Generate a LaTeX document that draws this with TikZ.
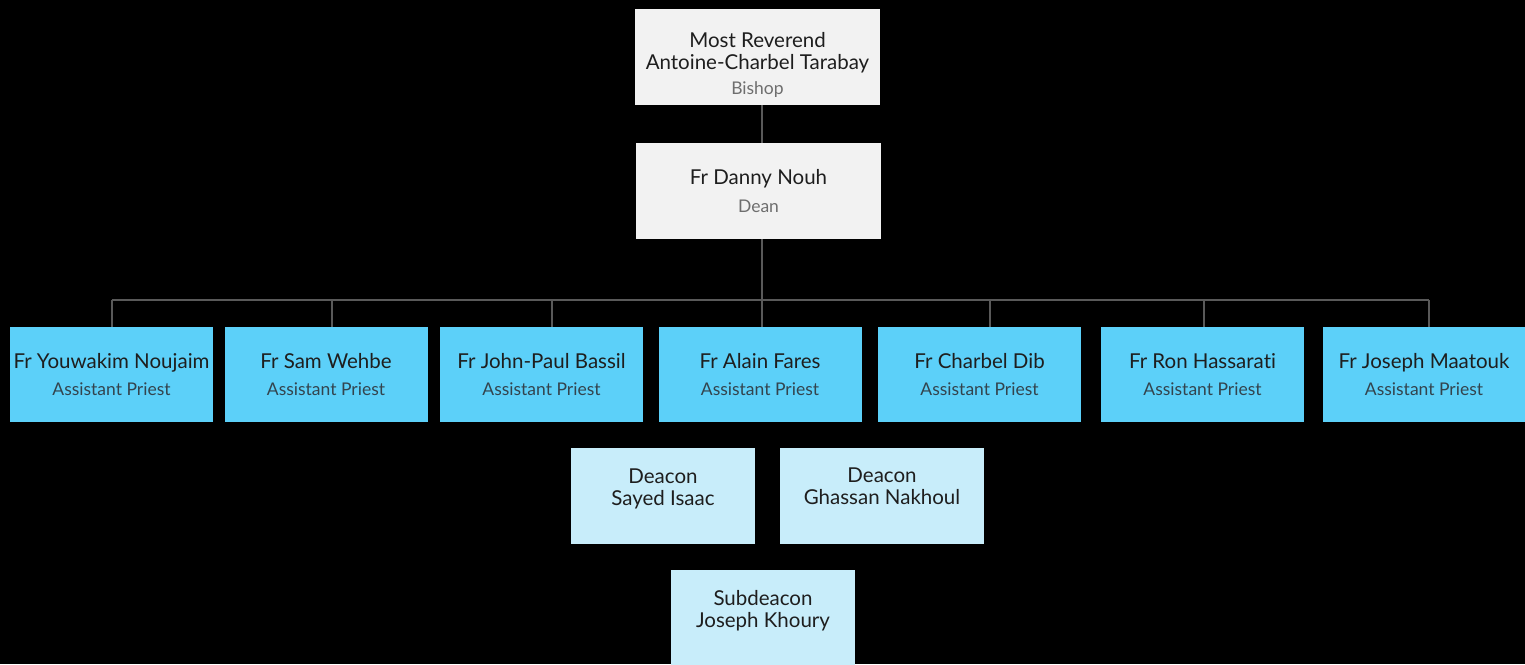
\documentclass[tikz,border=0pt]{standalone}
\usepackage{fontspec}
\setmainfont{Lato}[Ligatures=NoCommon]
\usetikzlibrary{positioning}
\definecolor{headfill}{HTML}{F2F2F2}
\definecolor{priestfill}{HTML}{5CD0F9}
\definecolor{deaconfill}{HTML}{C8EDFA}
\definecolor{nametext}{HTML}{1E1E1E}
\definecolor{rolegray}{HTML}{6E6E6E}
\definecolor{roleblue}{HTML}{33444E}
\definecolor{linkgray}{HTML}{595959}
\newcommand{\rolename}[2]{{\fontsize{17.5}{20}\selectfont\color{#1}#2}}
\begin{document}
\begin{tikzpicture}
[x=1pt,y=-1pt,
  boxdecorate/.style={inner sep=0pt,align=center,text=nametext,
    font=\fontsize{20.5}{22}\selectfont},
  headdecorate/.style={boxdecorate,fill=headfill,minimum width=245,minimum height=96},
  priestdecorate/.style={boxdecorate,fill=priestfill,minimum width=203,minimum height=95},
  deacondecorate/.style={boxdecorate,fill=deaconfill,minimum width=184,minimum height=96},
  linkdecorate/.style={draw=linkgray,line width=1.6pt}]
\fill[black] (0,0) rectangle (1525,664);
\useasboundingbox (0,0) rectangle (1525,664);
%% bishop and dean
\node (bishop) at (757.5,57) [headdecorate]
  {\rule{0pt}{30pt}Most Reverend\\Antoine-Charbel Tarabay\\[3pt]\rolename{rolegray}{Bishop}};
\node (dean) at (758.5,191) [headdecorate]
  {Fr Danny Nouh\\[6pt]\rolename{rolegray}{Dean}};
%% assistant priests
\foreach \nodename/\x/\drop/\fullname in {p1/111.5/112/Fr Youwakim Noujaim,
  p2/326/332/Fr Sam Wehbe, p3/541.5/552/Fr John-Paul Bassil,
  p4/760/762/Fr Alain Fares, p5/979.5/990/Fr Charbel Dib,
  p6/1202.5/1204/Fr Ron Hassarati, p7/1424/1429/Fr Joseph Maatouk} {
  \node (\nodename) at (\x,374.5) [priestdecorate]
    {\fullname\\[5pt]\rolename{roleblue}{Assistant Priest}};
  \coordinate (t\nodename) at (\drop,300);
}
%% deacons and subdeacon
\node (isaac) at (663,496) [deacondecorate, minimum width=184]
  {Deacon\\Sayed Isaac\\[-10pt]\strut};
\node (nakhoul) at (882,495.5) [deacondecorate, minimum width=204]
  {Deacon\\Ghassan Nakhoul\\[-10pt]\strut};
\node (khoury) at (763,618) [deacondecorate]
  {Subdeacon\\Joseph Khoury\\[-10pt]\strut};
%% lines
\path[linkdecorate] (bishop.south -| tp4) -- (dean.north -| tp4);
\path[linkdecorate] (dean.south -| tp4) -- (tp4);
\path[linkdecorate] (tp1) -- (tp7);
\foreach \nodename in {p1,p2,p3,p4,p5,p6,p7} {
  \path[linkdecorate] (t\nodename) -- (t\nodename |- \nodename.north);
}
\end{tikzpicture}
\end{document}
